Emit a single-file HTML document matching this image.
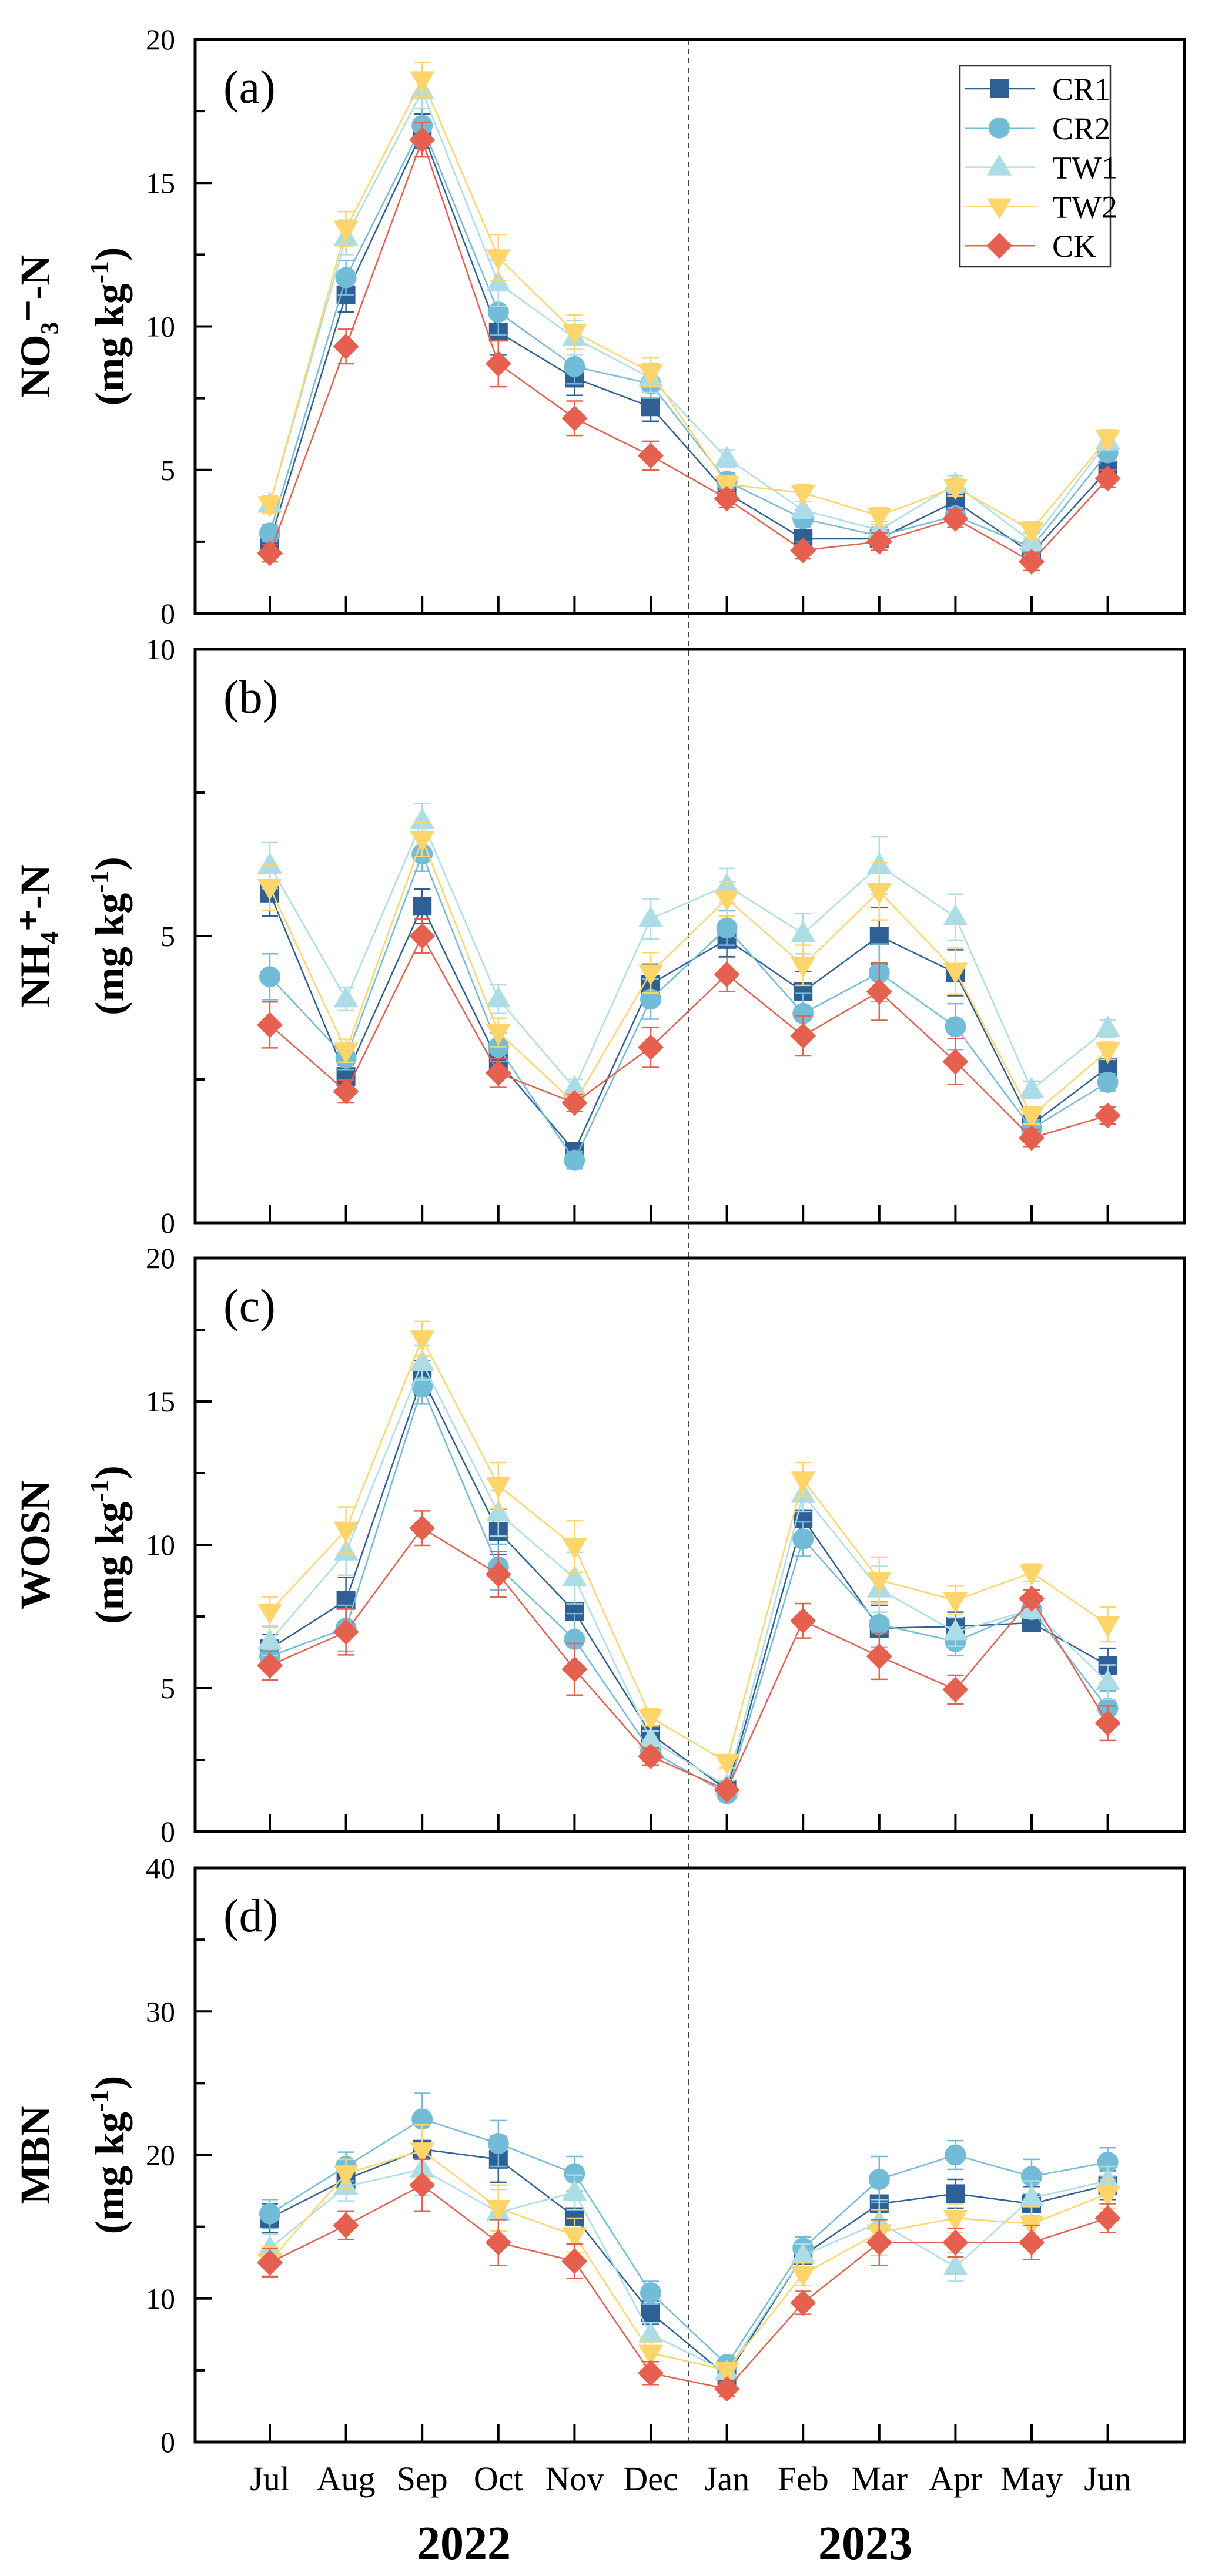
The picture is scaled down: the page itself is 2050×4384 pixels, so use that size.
<!DOCTYPE html>
<html><head><meta charset="utf-8"><style>
html,body{margin:0;padding:0;background:#fff;}
svg{display:block;font-family:"Liberation Serif",serif;}
</style></head><body>
<svg id="fig" xmlns="http://www.w3.org/2000/svg" width="2050" height="4384" viewBox="0 0 2050 4384"></svg>
<script>
// ---- data ----
const months = ["Jul","Aug","Sep","Oct","Nov","Dec","Jan","Feb","Mar","Apr","May","Jun"];
const years = ["2022","2023"];
const seriesNames = ["CR1","CR2","TW1","TW2","CK"];

const no3CR1 = [2.5, 11.1, 16.8, 9.8, 8.2, 7.2, 4.2, 2.6, 2.6, 3.9, 2.1, 5.0];
const no3CR2 = [2.8, 11.7, 17.0, 10.5, 8.6, 8.0, 4.6, 3.3, 2.7, 3.4, 2.3, 5.6];
const no3TW1 = [3.8, 13.1, 18.2, 11.5, 9.6, 8.2, 5.4, 3.6, 2.9, 4.5, 2.5, 6.0];
const no3TW2 = [3.8, 13.4, 18.6, 12.4, 9.8, 8.4, 4.5, 4.2, 3.4, 4.4, 2.9, 6.1];
const no3CK  = [2.1, 9.3, 16.5, 8.7, 6.8, 5.5, 4.0, 2.2, 2.5, 3.3, 1.8, 4.7];
const no3Err = [0.3, 0.6, 0.6, 0.8, 0.6, 0.5, 0.3, 0.3, 0.3, 0.3, 0.3, 0.3];

const nh4CR1 = [5.75, 2.55, 5.52, 2.81, 1.25, 4.16, 4.94, 4.03, 5.0, 4.36, 1.71, 2.71];
const nh4CR2 = [4.29, 2.87, 6.43, 3.06, 1.09, 3.9, 5.14, 3.65, 4.36, 3.42, 1.64, 2.45];
const nh4TW1 = [6.23, 3.9, 7.01, 3.9, 2.35, 5.3, 5.88, 5.04, 6.23, 5.33, 2.32, 3.39];
const nh4TW2 = [5.85, 3.0, 6.69, 3.32, 2.09, 4.36, 5.65, 4.49, 5.78, 4.39, 1.87, 3.0];
const nh4CK  = [3.45, 2.29, 5.0, 2.61, 2.09, 3.06, 4.33, 3.26, 4.03, 2.81, 1.48, 1.87];
const nh4Err = [0.4, 0.2, 0.3, 0.25, 0.15, 0.35, 0.3, 0.35, 0.5, 0.4, 0.15, 0.15];

const wosnCR1 = [6.37, 8.06, 15.83, 10.46, 7.67, 3.4, 1.45, 10.91, 7.09, 7.15, 7.28, 5.79];
const wosnCR2 = [6.11, 7.09, 15.51, 9.22, 6.7, 2.81, 1.32, 10.2, 7.22, 6.63, 7.74, 4.3];
const wosnTW1 = [6.63, 9.74, 16.35, 11.1, 8.84, 3.2, 1.58, 11.75, 8.45, 6.96, 7.74, 5.21];
const wosnTW2 = [7.67, 10.52, 17.19, 12.07, 9.94, 3.98, 2.42, 12.27, 8.77, 8.06, 9.03, 7.22];
const wosnCK  = [5.79, 6.96, 10.58, 8.97, 5.66, 2.62, 1.45, 7.35, 6.11, 4.95, 8.12, 3.78];
const wosnErr = [0.5, 0.8, 0.6, 0.8, 0.9, 0.3, 0.2, 0.6, 0.8, 0.5, 0.3, 0.6];

const mbnCR1 = [15.6, 18.3, 20.4, 19.7, 15.7, 9.0, 4.6, 13.0, 16.6, 17.3, 16.6, 17.9];
const mbnCR2 = [15.9, 19.2, 22.5, 20.8, 18.7, 10.4, 5.4, 13.5, 18.3, 20.0, 18.5, 19.5];
const mbnTW1 = [13.5, 17.8, 19.0, 16.0, 17.4, 7.5, 4.9, 13.0, 15.3, 12.2, 17.0, 18.2];
const mbnTW2 = [12.6, 18.7, 20.3, 16.3, 14.4, 6.2, 5.0, 11.7, 14.6, 15.6, 15.2, 17.3];
const mbnCK  = [12.5, 15.1, 17.9, 13.9, 12.6, 4.8, 3.7, 9.7, 13.9, 13.9, 13.9, 15.6];
const mbnErr = [1.0, 1.0, 1.8, 1.6, 1.2, 0.8, 0.5, 0.8, 1.6, 1.0, 1.2, 1.0];

const yTicksA = [0, 5, 10, 15, 20];
const yTicksB = [0, 5, 10];
const yTicksC = [0, 5, 10, 15, 20];
const yTicksD = [0, 10, 20, 30, 40];

// ---- drawing ----
const NS = "http://www.w3.org/2000/svg";
const svg = document.getElementById("fig");
const colors = ["#2e6096", "#72bcd8", "#acdde6", "#fdd56a", "#e5604f"];
const L = 332, R = 2015;
const x0 = 459, dx = 129.6;
function xScale(i){ return x0 + i*dx; }

function el(tag, attrs, parent){
  const e = document.createElementNS(NS, tag);
  for (const k in attrs) e.setAttribute(k, attrs[k]);
  (parent||svg).appendChild(e);
  return e;
}

function marker(g, k, cx, cy, color){
  let m;
  if (k===0) m = el("rect",{x:cx-16,y:cy-16,width:32,height:32,fill:color},g);
  else if (k===1) m = el("circle",{cx:cx,cy:cy,r:18,fill:color},g);
  else if (k===2) m = el("polygon",{points:`${cx},${cy-22} ${cx+21},${cy+14} ${cx-21},${cy+14}`,fill:color},g);
  else if (k===3) m = el("polygon",{points:`${cx},${cy+22} ${cx+21},${cy-14} ${cx-21},${cy-14}`,fill:color},g);
  else m = el("polygon",{points:`${cx},${cy-22} ${cx+22},${cy} ${cx},${cy+22} ${cx-22},${cy}`,fill:color},g);
  return m;
}

const panels = [
  {id:"a", top:67, bot:1044, max:20, major:yTicksA, minorStep:2.5, data:[no3CR1,no3CR2,no3TW1,no3TW2,no3CK], err:no3Err, t1:"NO\u2083\u207B-N"},
  {id:"b", top:1105, bot:2081, max:10, major:yTicksB, minorStep:2.5, data:[nh4CR1,nh4CR2,nh4TW1,nh4TW2,nh4CK], err:nh4Err, t1:"NH\u2084\u207A-N"},
  {id:"c", top:2141, bot:3117, max:20, major:yTicksC, minorStep:2.5, data:[wosnCR1,wosnCR2,wosnTW1,wosnTW2,wosnCK], err:wosnErr, t1:"WOSN"},
  {id:"d", top:3179, bot:4156, max:40, major:yTicksD, minorStep:5, data:[mbnCR1,mbnCR2,mbnTW1,mbnTW2,mbnCK], err:mbnErr, t1:"MBN"}
];

// dashed year separator
const dash = el("line",{x1:(xScale(5)+xScale(6))/2,x2:(xScale(5)+xScale(6))/2,y1:67,y2:4162,stroke:"#444","stroke-width":2,"stroke-dasharray":"9,7"});



panels.forEach((p)=>{
  const g = el("g",{});
  
  
  const ys = v => p.bot - v*(p.bot-p.top)/p.max;
  // frame
  const fr = el("rect",{x:L,y:p.top,width:R-L,height:p.bot-p.top,fill:"none",stroke:"#000","stroke-width":5},g);
  
  
  // y ticks
  for (let v=0; v<=p.max+1e-9; v+=p.minorStep){
    const isMaj = p.major.indexOf(v) >= 0;
    const t = el("line",{x1:L,x2:L+(isMaj?28:16),y1:ys(v),y2:ys(v),stroke:"#000","stroke-width":4},g);
    
    
  }
  p.major.forEach(v=>{
    const tl = el("text",{x:298,y:ys(v)+17,"text-anchor":"end","font-size":50},g);
    tl.textContent = v;
    
    
  });
  // x ticks
  months.forEach((m,i)=>{
    const t = el("line",{x1:xScale(i),x2:xScale(i),y1:p.bot,y2:p.bot-30,stroke:"#000","stroke-width":4},g);
    
    
  });
  // panel letter
  const pl = el("text",{x:380,y:p.top+108,"font-size":80},g);
  pl.textContent = "(" + p.id + ")";
  
  
  // y title
  const cy = (p.top+p.bot)/2;
  const yt = el("text",{x:0,y:0,"font-size":72,"font-weight":"bold","text-anchor":"middle",transform:`translate(84,${cy}) rotate(-90)`},g);
  yt.textContent = p.t1;
  
  
  const yu = el("text",{x:0,y:0,"font-size":70,"font-weight":"bold","text-anchor":"middle",transform:`translate(210,${cy}) rotate(-90)`},g);
  yu.innerHTML = '(mg kg<tspan dy="-26" font-size="46">-1</tspan><tspan dy="26">)</tspan>';
  
  
  // series
  p.data.forEach((arr,k)=>{
    const sg = el("g",{},g);
    
    
    const pts = arr.map((v,i)=>xScale(i)+","+ys(v)).join(" ");
    el("polyline",{points:pts,fill:"none",stroke:colors[k],"stroke-width":2.5},sg);
    arr.forEach((v,i)=>{
      const e = p.err[i];
      const eg = el("path",{d:`M${xScale(i)},${ys(v+e)}V${ys(v-e)}M${xScale(i)-14},${ys(v+e)}h28M${xScale(i)-14},${ys(v-e)}h28`,stroke:colors[k],"stroke-width":2.5,fill:"none"},sg);
      
      
    });
    arr.forEach((v,i)=>{
      const m = marker(sg,k,xScale(i),ys(v),colors[k]);
      
      
    });
  });
});

// legend
const lg = el("g",{});


el("rect",{x:1633,y:112,width:256,height:342,fill:"#fff",stroke:"#333","stroke-width":2.5},lg);
seriesNames.forEach((n,k)=>{
  const yy = 151 + k*66.8;
  const eg = el("g",{},lg);
  
  
  el("line",{x1:1641,x2:1761,y1:yy,y2:yy,stroke:colors[k],"stroke-width":2.5},eg);
  marker(eg,k,1700,yy,colors[k]);
  const t = el("text",{x:1790,y:yy+19,"font-size":54},eg);
  t.textContent = n;
});

// x labels
months.forEach((m,i)=>{
  const t = el("text",{x:xScale(i),y:4238,"text-anchor":"middle","font-size":58});
  t.textContent = m;
  
  
});
const yearX = [789, 1472];
years.forEach((yv,i)=>{
  const t = el("text",{x:yearX[i],y:4355,"text-anchor":"middle","font-size":80,"font-weight":"bold"});
  t.textContent = yv;
  
  
});
</script>
</body></html>
